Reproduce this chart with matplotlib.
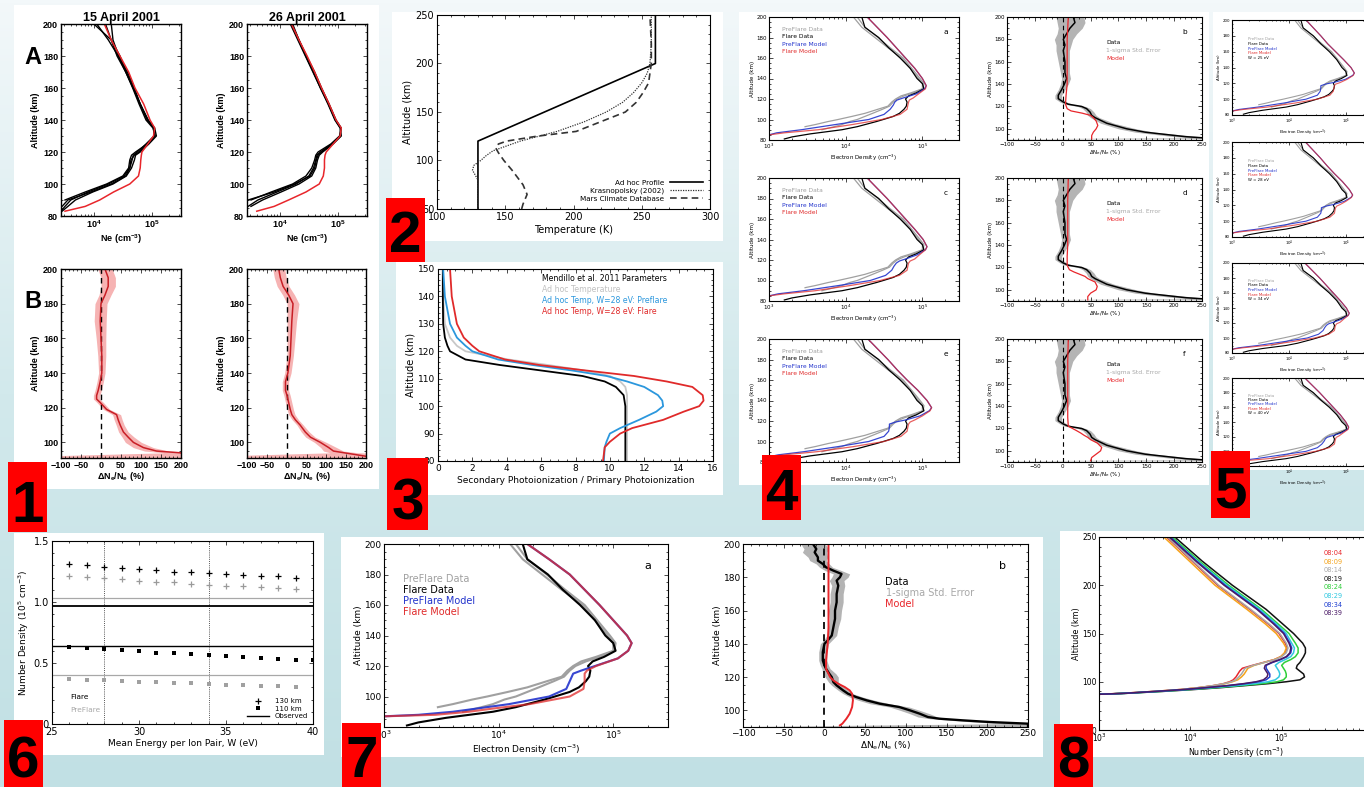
import numpy as np
import matplotlib
matplotlib.use("Agg")
import matplotlib.pyplot as plt
from matplotlib.patches import Rectangle
from matplotlib.lines import Line2D
from matplotlib.ticker import AutoMinorLocator, MultipleLocator
from matplotlib.colors import LinearSegmentedColormap

nan = np.nan
plt.rcParams["font.family"] = ["DejaVu Sans"]
plt.rcParams["mathtext.default"] = "regular"

# ---------------- panel 1 : Ne profiles, 15 / 26 April 2001 ----------------
alt_1a = [83, 86, 90, 95, 100, 105, 110, 115, 118, 120, 125, 130, 135, 140, 150, 160, 170, 180, 190, 200]
ne15_k1 = [3.43, 3.50, 3.60, 3.90, 4.25, 4.52, 4.62, 4.66, 4.68, 4.75, 4.90, 5.04, 5.03, 4.93, 4.80, 4.68, 4.55, 4.40, 4.30, 4.20]
ne15_k2 = [nan, 3.45, 3.55, 3.95, 4.30, 4.55, 4.62, 4.64, 4.70, 4.78, 4.93, 5.06, 5.02, 4.90, 4.78, 4.67, 4.55, 4.42, 4.25, 4.05]
ne15_k3 = [nan, nan, 3.50, 3.85, 4.22, 4.50, 4.60, 4.62, 4.65, 4.72, 4.92, 5.05, 5.04, 4.92, 4.80, 4.70, 4.58, 4.43, 4.33, 4.30]
ne15_k4 = [3.45, 3.55, 3.68, 3.98, 4.33, 4.56, 4.65, 4.70, 4.72, 4.80, 4.95, 5.08, 5.05, 4.94, 4.80, 4.68, 4.56, 4.45, 4.30, 4.00]
ne15_red = [3.50, 3.85, 4.10, 4.34, 4.62, 4.77, 4.80, 4.81, 4.82, 4.83, 4.93, 5.03, 5.05, 4.97, 4.86, 4.71, 4.60, 4.45, 4.30, 4.18]
ne26_k1 = [nan, 3.45, 3.62, 3.95, 4.28, 4.50, 4.58, 4.62, 4.64, 4.70, 4.90, 5.04, 5.05, 4.96, 4.84, 4.70, 4.58, 4.45, 4.32, 4.20]
ne26_k2 = [nan, nan, 3.50, 3.85, 4.22, 4.45, 4.55, 4.60, 4.62, 4.66, 4.88, 5.03, 5.06, 4.97, 4.85, 4.72, 4.60, 4.46, 4.33, 4.22]
ne26_k3 = [nan, 3.50, 3.70, 4.02, 4.33, 4.55, 4.62, 4.65, 4.68, 4.74, 4.92, 5.06, 5.04, 4.95, 4.83, 4.70, 4.57, 4.44, 4.31, 4.18]
ne26_k4 = [nan, nan, 3.45, 3.90, 4.25, 4.52, 4.60, 4.63, 4.66, 4.72, 4.90, 5.05, 5.05, 4.96, 4.84, 4.71, 4.58, 4.45, 4.33, 4.20]
ne26_red = [3.60, 3.90, 4.15, 4.45, 4.68, 4.75, 4.77, 4.77, 4.78, 4.80, 4.92, 5.04, 5.06, 4.97, 4.85, 4.72, 4.60, 4.47, 4.33, 4.20]

alt_1b = [91, 92, 94, 95, 97, 100, 103, 106, 110, 113, 116, 119, 121, 123, 125, 127, 130, 135, 140, 150, 160, 170, 180, 185, 190, 195, 200]
dn15 = [250, 230, 198, 139, 106, 81, 68, 56, 48, 43, 39, 14, 6, -2, -11, -11, -7, -2, 2, 2, 0, -2, 0, 10, 18, 18, 10]
err15 = [400, 400, 40, 30, 25, 20, 15, 12, 10, 10, 10, 8, 8, 8, 8, 8, 8, 8, 8, 10, 12, 15, 15, 15, 18, 18, 18]
dn26 = [250, 200, 145, 118, 106, 85, 60, 47, 34, 22, 13, 9, 7, 5, 3, 1, -3, -3, 3, 9, 11, 13, 16, 5, -9, -16, -20]
err26 = [400, 400, 35, 25, 20, 15, 12, 10, 8, 8, 8, 8, 8, 8, 8, 8, 8, 8, 8, 8, 10, 12, 15, 15, 15, 15, 15]

# ---------------- panel 2 : temperature profiles ----------------
alt_adhoc = [50, 120, 200, 250]
t_adhoc = [130, 130, 260, 260]
alt_kras = [50, 80, 85, 90, 95, 100, 105, 110, 120, 130, 140, 150, 160, 170, 180, 190, 200, 220, 250]
t_kras = [130, 130, 128, 126, 127, 132, 136, 141, 161, 188, 208, 224, 236, 244, 250, 254, 256, 257, 257]
alt_mcd = [50, 55, 65, 75, 90, 100, 108, 113, 117, 120, 125, 130, 140, 150, 160, 170, 180, 190, 200, 220, 250]
t_mcd = [162, 163, 166, 163, 155, 149, 145, 143, 145, 151, 173, 202, 220, 238, 246, 251, 255, 256, 257, 257, 256]

# ---------------- panel 3 : secondary / primary photoionization ----------------
alt_3 = [80, 85, 87, 90, 92, 95, 98, 100, 102, 104, 107, 109, 111, 113, 115, 117, 120, 122, 125, 130, 140, 150]
ratio_mendillo = [10.9, 10.9, 10.9, 10.9, 10.9, 10.9, 10.9, 10.9, 10.85, 10.8, 10.35, 9.7, 8.4, 6.0, 3.6, 1.6, 0.7, 0.55, 0.4, 0.3, 0.28, 0.28]
ratio_adhoc = [11.0, 11.0, 11.0, 11.0, 11.0, 11.0, 11.0, 11.0, 11.0, 11.0, 10.9, 10.6, 10.0, 8.5, 6.4, 4.1, 1.6, 1.1, 0.7, 0.4, 0.3, 0.3]
ratio_pre = [9.65, 9.7, 9.8, 10.0, 10.6, 11.7, 12.7, 13.1, 13.05, 12.8, 12.0, 11.0, 9.8, 7.8, 5.5, 3.5, 2.0, 1.6, 1.1, 0.7, 0.4, 0.3]
ratio_flare = [9.6, 9.7, 10.0, 10.6, 11.3, 13.1, 14.3, 15.2, 15.45, 15.4, 14.8, 13.3, 11.4, 8.6, 5.9, 3.9, 2.4, 2.0, 1.5, 1.1, 0.8, 0.7]

# ---------------- panels 4, 5, 7 : electron density (log10 cm^-3) ----------------
alt_data = [81, 83, 86, 90, 93, 95, 98, 100, 103, 106, 110, 113, 117, 120, 123, 126, 130, 135, 140, 150, 160, 170, 180, 190, 200]
flare_data = [3.2, 3.3, 3.54, 3.95, 4.15, 4.25, 4.40, 4.49, 4.62, 4.70, 4.76, 4.79, 4.80, 4.78, 4.82, 4.92, 5.02, 5.00, 4.93, 4.84, 4.71, 4.56, 4.43, 4.25, 4.21]
pre_data1 = [nan, nan, nan, nan, 3.47, 3.6, 3.77, 3.9, 4.08, 4.25, 4.42, 4.55, 4.60, 4.65, 4.72, 4.85, 5.00, 5.00, 4.95, 4.84, 4.73, 4.55, 4.38, 4.21, 4.10]
pre_data2 = [nan, nan, nan, 3.69, 3.85, 3.95, 4.05, 4.15, 4.25, 4.35, 4.48, 4.57, 4.62, 4.67, 4.76, 4.88, 5.01, 5.02, 4.97, 4.86, 4.75, 4.58, 4.42, 4.25, 4.15]

alt_model = [84, 85, 87, 90, 95, 100, 105, 110, 114, 117, 119, 121, 125, 130, 133, 140, 150, 160, 170, 180, 190, 200]
flare_model_a = [2.7, 3.0, 3.2, 3.64, 4.08, 4.47, 4.71, 4.80, 4.81, 4.82, 4.83, 4.88, 4.95, 5.04, 5.05, 5.00, 4.90, 4.78, 4.66, 4.54, 4.41, 4.28]
pre_model_a = [2.7, 3.0, 3.1, 3.42, 3.86, 4.30, 4.50, 4.58, 4.62, 4.64, 4.67, 4.75, 4.92, 5.03, 5.05, 5.00, 4.90, 4.78, 4.66, 4.54, 4.41, 4.28]
flare_model_c = [2.7, 3.0, 3.2, 3.60, 4.05, 4.45, 4.70, 4.80, 4.81, 4.82, 4.84, 4.90, 4.96, 5.04, 5.06, 5.01, 4.90, 4.78, 4.66, 4.54, 4.41, 4.28]
pre_model_c = [2.7, 3.0, 3.12, 3.45, 3.90, 4.32, 4.52, 4.60, 4.63, 4.66, 4.70, 4.78, 4.93, 5.04, 5.06, 5.01, 4.90, 4.78, 4.66, 4.54, 4.41, 4.28]
flare_model_e = [2.7, 3.0, 3.2, 3.62, 4.10, 4.50, 4.72, 4.80, 4.81, 4.82, 4.84, 4.90, 5.00, 5.10, 5.12, 5.06, 4.94, 4.80, 4.67, 4.55, 4.42, 4.29]
pre_model_e = [2.7, 3.0, 3.12, 3.45, 3.90, 4.30, 4.50, 4.56, 4.57, 4.57, 4.65, 4.78, 4.97, 5.09, 5.12, 5.06, 4.94, 4.80, 4.67, 4.55, 4.42, 4.29]
flare_model_g = [2.7, 3.0, 3.2, 3.62, 4.10, 4.50, 4.72, 4.78, 4.79, 4.80, 4.82, 4.90, 5.02, 5.13, 5.15, 5.09, 4.96, 4.82, 4.68, 4.56, 4.43, 4.30]
pre_model_g = [2.7, 3.0, 3.12, 3.45, 3.90, 4.30, 4.50, 4.55, 4.56, 4.56, 4.64, 4.78, 4.99, 5.12, 5.15, 5.09, 4.96, 4.82, 4.68, 4.56, 4.43, 4.30]

alt_model7 = [86, 87, 88, 90, 92, 95, 100, 105, 110, 115, 117, 120, 125, 130, 135, 140, 150, 160, 170, 180, 190, 200]
flare_model7 = [2.6, 3.0, 3.45, 3.74, 3.94, 4.27, 4.62, 4.74, 4.75, 4.75, 4.77, 4.85, 5.04, 5.13, 5.16, 5.12, 5.00, 4.88, 4.75, 4.62, 4.44, 4.25]
pre_model7 = [2.6, 3.0, 3.30, 3.60, 3.80, 4.09, 4.44, 4.59, 4.62, 4.65, 4.72, 4.84, 5.04, 5.13, 5.16, 5.12, 5.00, 4.88, 4.75, 4.62, 4.44, 4.25]

# relative change dNe/Ne (%) for panel 4 b/d/f
alt_dn4 = [91, 92, 93, 95, 97, 100, 105, 110, 112, 115, 118, 120, 122, 124, 127, 130, 135, 140, 145, 150, 160, 170, 175, 180, 185, 190, 195, 200]
dn_data4 = [260, 250, 220, 184, 148, 115, 79, 58, 52, 49, 43, 34, 10, 1, -8, -8, -2, 3, 7, 4, 4, 1, 4, 1, 7, 13, 22, 19]
dn_lo4 = [-150, 230, 200, 165, 130, 100, 68, 50, 45, 42, 36, 27, 4, -5, -14, -14, -8, -4, -2, -4, -8, -12, -12, -15, -10, -8, -10, -12]
dn_hi4 = [400, 280, 245, 205, 165, 132, 92, 66, 60, 56, 50, 41, 17, 7, -2, -2, 4, 10, 14, 12, 12, 12, 15, 18, 25, 35, 40, 38]
alt_dnm4 = [91, 94, 97, 100, 103, 107, 110, 112, 114, 116, 118, 122, 130, 140, 160, 180, 200]
dn_model_b = [52, 52, 55, 60, 63, 60, 55, 50, 35, 15, 8, 5, 6, 8, 8, 8, 10]
dn_model_d = [45, 45, 50, 60, 62, 58, 45, 40, 30, 20, 12, 8, 8, 9, 9, 9, 10]
dn_model_f = [50, 52, 60, 68, 70, 62, 50, 45, 38, 32, 25, 10, 9, 9, 9, 9, 10]

# panel 7 b
alt_dn7 = [90, 92, 93, 94, 95, 96, 98, 100, 102, 104, 106, 108, 110, 112, 115, 117, 120, 122, 125, 127, 130, 135,
           140, 142, 145, 150, 155, 160, 165, 170, 175, 178, 180, 182, 184, 186, 188, 190, 192, 195, 197, 200]
dn_data7 = [250, 250, 203, 170, 141, 127, 117, 105, 92, 68, 52, 39, 29, 23, 15, 11, 9, 6, 2, 0, -2, -2,
            0, 4, 9, 11, 13, 13, 15, 15, 17, 15, 19, 21, 11, 2, -2, -8, -8, -12, -10, -14]
dn_err7 = [400, 30, 20, 15, 12, 12, 12, 12, 12, 12, 10, 8, 6, 6, 6, 6, 8, 8, 5, 5, 5, 5,
           5, 5, 6, 6, 7, 8, 8, 8, 8, 9, 10, 10, 10, 8, 8, 10, 12, 15, 15, 15]
alt_dnm7 = [91, 92, 95, 98, 102, 106, 110, 112, 114, 116, 118, 120, 122, 125, 130, 140, 150, 200]
dn_model7 = [19, 22, 27, 31, 34, 35, 34, 31, 25, 17, 11, 7, 5, 2, 2, 4, 5, 5]

# ---------------- panel 6 : peak densities vs W ----------------
w_130 = [26, 27, 28, 29, 30, 31, 32, 33, 34, 35, 36, 37, 38, 39]
w_110 = [26, 27, 28, 29, 30, 31, 32, 33, 34, 35, 36, 37, 38, 39, 40]
flare_130 = [1.31, 1.30, 1.29, 1.28, 1.27, 1.26, 1.25, 1.245, 1.24, 1.23, 1.225, 1.215, 1.21, 1.20]
pre_130 = [1.215, 1.205, 1.195, 1.185, 1.175, 1.165, 1.16, 1.15, 1.14, 1.135, 1.13, 1.12, 1.115, 1.11]
flare_110 = [0.635, 0.625, 0.615, 0.605, 0.595, 0.585, 0.578, 0.57, 0.562, 0.555, 0.548, 0.542, 0.535, 0.528, 0.522]
pre_110 = [0.367, 0.362, 0.357, 0.352, 0.347, 0.342, 0.337, 0.332, 0.327, 0.322, 0.318, 0.314, 0.309, 0.304]
obs_flare_130, obs_pre_130 = 0.965, 1.035
obs_flare_110, obs_pre_110 = 0.64, 0.405
w_marked = [28, 34]

# ---------------- panel 8 : density vs time ----------------
alt_8 = [87, 88, 90, 92, 94, 96, 98, 100, 102, 105, 108, 111, 114, 117, 120, 123, 126, 130, 135, 140, 150, 160, 175, 200, 225, 250]
times_8 = ["08:04", "08:09", "08:14", "08:19", "08:24", "08:29", "08:34", "08:39"]
colors_8 = ["#e8262b", "#f5a31a", "#a8a8a8", "#111111", "#2fcf3a", "#30c8e0", "#1f3fd0", "#4a1a66"]
n_0804 = [3.0, 3.25, 3.6, 3.9, 4.1, 4.25, 4.36, 4.43, 4.47, 4.5, 4.52, 4.54, 4.57, 4.68, 4.8, 4.92, 4.99, 5.04, 5.06, 5.04, 4.97, 4.85, 4.65, 4.30, 4.02, 3.74]
n_0809 = [3.0, 3.25, 3.6, 3.9, 4.1, 4.26, 4.38, 4.46, 4.52, 4.56, 4.59, 4.61, 4.63, 4.7, 4.81, 4.92, 4.99, 5.03, 5.05, 5.02, 4.94, 4.82, 4.62, 4.27, 3.99, 3.71]
n_0814 = [3.0, 3.25, 3.6, 3.9, 4.1, 4.25, 4.37, 4.45, 4.5, 4.53, 4.56, 4.58, 4.6, 4.69, 4.81, 4.93, 5.0, 5.05, 5.07, 5.05, 4.98, 4.86, 4.66, 4.31, 4.03, 3.75]
n_0819 = [3.0, 3.3, 3.7, 4.05, 4.35, 4.6, 4.85, 5.05, 5.2, 5.25, 5.24, 5.2, 5.16, 5.17, 5.2, 5.22, 5.24, 5.26, 5.26, 5.23, 5.13, 5.01, 4.83, 4.46, 4.13, 3.83]
n_0824 = [3.0, 3.3, 3.68, 4.0, 4.3, 4.55, 4.78, 4.95, 5.02, 5.05, 5.05, 5.04, 5.02, 5.0, 5.03, 5.1, 5.15, 5.18, 5.18, 5.15, 5.08, 4.96, 4.78, 4.42, 4.1, 3.8]
n_0829 = [3.0, 3.28, 3.65, 3.98, 4.25, 4.5, 4.7, 4.85, 4.93, 4.97, 4.98, 4.97, 4.95, 4.93, 4.97, 5.04, 5.1, 5.13, 5.14, 5.11, 5.05, 4.94, 4.76, 4.4, 4.08, 3.78]
n_0834 = [3.0, 3.28, 3.63, 3.95, 4.2, 4.42, 4.6, 4.75, 4.83, 4.87, 4.87, 4.85, 4.83, 4.83, 4.9, 4.99, 5.06, 5.1, 5.11, 5.09, 5.03, 4.92, 4.74, 4.38, 4.07, 3.78]
n_0839 = [3.0, 3.28, 3.62, 3.94, 4.18, 4.4, 4.58, 4.72, 4.8, 4.84, 4.85, 4.83, 4.81, 4.82, 4.89, 4.98, 5.05, 5.09, 5.1, 5.08, 5.02, 4.91, 4.73, 4.37, 4.06, 3.77]

RED, BLUE, GRAY = "#e02a2a", "#2233cc", "#a0a0a0"

# ======================================================================
W_PX, H_PX = 1364, 787
fig = plt.figure(figsize=(W_PX / 100, H_PX / 100), dpi=100)


def add_ax(x0, y0, x1, y1):
    return fig.add_axes([x0 / W_PX, 1 - y1 / H_PX, (x1 - x0) / W_PX, (y1 - y0) / H_PX])


def fig_rect(x0, y0, x1, y1, color, z):
    fig.add_artist(Rectangle((x0 / W_PX, 1 - y1 / H_PX), (x1 - x0) / W_PX, (y1 - y0) / H_PX,
                             transform=fig.transFigure, facecolor=color, edgecolor="none", zorder=z))


def style(ax, fs, lw=0.8, pad=2, minor_x=True, minor_y=True):
    if minor_x and ax.get_xscale() == "linear":
        ax.xaxis.set_minor_locator(AutoMinorLocator())
    if minor_y:
        ax.yaxis.set_minor_locator(AutoMinorLocator())
    ax.tick_params(which="both", direction="in", top=True, right=True, labelsize=fs, width=0.5, pad=pad)
    ax.tick_params(which="major", length=3)
    ax.tick_params(which="minor", length=1.5)
    for s in ax.spines.values():
        s.set_linewidth(lw)


def text_legend(ax, x, y, dy, items, fs, **kw):
    for i, (lab, col) in enumerate(items):
        ax.text(x, y - i * dy, lab, color=col, fontsize=fs, transform=ax.transAxes, va="center", **kw)


def logv(v):
    return 10 ** np.asarray(v, dtype=float)


# background gradient
bg = fig.add_axes([0, 0, 1, 1], zorder=-10)
grad = np.linspace(0, 1, 256).reshape(-1, 1)
bg.imshow(grad, aspect="auto", extent=[0, 1, 0, 1], origin="lower",
          cmap=LinearSegmentedColormap.from_list("bg", ["#c1e0e4", "#d2e9ec", "#f3f8fa"]))
bg.axis("off")

# white panels
for box in [(14, 5, 379, 489), (392, 12, 723, 241), (396, 262, 723, 495), (739, 12, 1209, 485),
            (1213, 12, 1364, 470), (14, 533, 324, 755), (341, 537, 1043, 757), (1060, 531, 1364, 757)]:
    fig_rect(*box, "white", -5)

# ---------------- panel 1 ----------------
hfont = dict(family="Liberation Sans", fontweight="bold")
for (x0, x1), title, blacks, red in [((61, 181), "15 April 2001", [ne15_k1, ne15_k2, ne15_k3, ne15_k4], ne15_red),
                                      ((247, 367), "26 April 2001", [ne26_k1, ne26_k2, ne26_k3, ne26_k4], ne26_red)]:
    ax = add_ax(x0, 24, x1, 216)
    for k in blacks:
        ax.plot(logv(k), alt_1a, color="black", lw=1.0)
    ax.plot(logv(red), alt_1a, color="#e8262b", lw=1.1)
    ax.set_xscale("log")
    ax.set_xlim(2.7e3, 3.2e5)
    ax.set_ylim(80, 200)
    ax.yaxis.set_major_locator(MultipleLocator(20))
    style(ax, 6.5, lw=1.0)
    for t in ax.get_xticklabels() + ax.get_yticklabels():
        t.set_fontfamily("Liberation Sans"); t.set_fontweight("bold")
    ax.set_title(title, fontsize=9, pad=2, **hfont)
    ax.set_xlabel("Ne (cm$^{-3}$)", fontsize=6.5, labelpad=1, **hfont)
    ax.set_ylabel("Altitude (km)", fontsize=6.5, labelpad=2, **hfont)

for (x0, x1), dn, err in [((61, 181), dn15, err15), ((247, 366), dn26, err26)]:
    ax = add_ax(x0, 269, x1, 458)
    dn_a, err_a = np.array(dn, float), np.array(err, float)
    ax.fill_betweenx(alt_1b, dn_a - err_a, dn_a + err_a, color="#f6b3b3", lw=0)
    ax.axvline(0, color="black", ls=(0, (4, 3)), lw=1.0)
    ax.plot(dn, alt_1b, color="#c81e25", lw=1.1)
    ax.set_xlim(-100, 200)
    ax.set_ylim(91, 200)
    ax.xaxis.set_major_locator(MultipleLocator(50))
    ax.yaxis.set_major_locator(MultipleLocator(20))
    style(ax, 6.5, lw=1.0)
    for t in ax.get_xticklabels() + ax.get_yticklabels():
        t.set_fontfamily("Liberation Sans"); t.set_fontweight("bold")
    ax.set_xlabel("ΔN$_e$/N$_e$ (%)", fontsize=6.5, labelpad=0, **hfont)
    ax.set_ylabel("Altitude (km)", fontsize=6.5, labelpad=2, **hfont)

fig.text(33 / W_PX, 1 - 58 / H_PX, "A", fontsize=17, ha="center", va="center", **hfont)
fig.text(33 / W_PX, 1 - 302 / H_PX, "B", fontsize=17, ha="center", va="center", **hfont)

# ---------------- panel 2 ----------------
ax = add_ax(437, 15, 710, 209)
ax.plot(t_adhoc, alt_adhoc, color="black", lw=1.2, label="Ad hoc Profile")
ax.plot(t_kras, alt_kras, color="#333333", lw=0.9, ls=(0, (1, 1)), label="Krasnopolsky (2002)")
ax.plot(t_mcd, alt_mcd, color="#333333", lw=1.2, ls=(0, (4, 2.5)), label="Mars Climate Database")
ax.set_xlim(100, 300)
ax.set_ylim(50, 250)
ax.xaxis.set_major_locator(MultipleLocator(50))
ax.yaxis.set_major_locator(MultipleLocator(50))
style(ax, 7)
ax.set_xlabel("Temperature (K)", fontsize=7, labelpad=2)
ax.set_ylabel("Altitude (km)", fontsize=7, labelpad=2)
ax.legend(loc="lower right", frameon=False, fontsize=5.2, markerfirst=False, handlelength=4.5,
          labelspacing=0.25, borderaxespad=0.6)

# ---------------- panel 3 ----------------
ax = add_ax(438, 269, 713, 461)
ax.plot(ratio_adhoc, alt_3, color="#c8c8c8", lw=1.3)
ax.plot(ratio_mendillo, alt_3, color="black", lw=1.3)
ax.plot(ratio_pre, alt_3, color="#2b97dd", lw=1.3)
ax.plot(ratio_flare, alt_3, color="#e02a2a", lw=1.3)
ax.set_xlim(0, 16)
ax.set_ylim(80, 150)
ax.xaxis.set_major_locator(MultipleLocator(2))
ax.yaxis.set_major_locator(MultipleLocator(10))
style(ax, 6.5)
ax.set_xlabel("Secondary Photoionization / Primary Photoionization", fontsize=6.5, labelpad=2)
ax.set_ylabel("Altitude (km)", fontsize=7, labelpad=2)
text_legend(ax, 0.38, 0.952, 0.058, [("Mendillo et al. 2011 Parameters", "black"),
                                      ("Ad hoc Temperature", "#c0c0c0"),
                                      ("Ad hoc Temp, W=28 eV: Preflare", "#2b97dd"),
                                      ("Ad hoc Temp, W=28 eV: Flare", "#e02a2a")], 5.6)


# ---------------- density / difference panels ----------------
def density_panel(ax, pre_m, flare_m, alt_m, fs, lw, leg_xy, leg_dy, leg_fs, letter=None, extra=None):
    ax.plot(logv(pre_data1), alt_data, color=GRAY, lw=lw)
    ax.plot(logv(pre_data2), alt_data, color=GRAY, lw=lw)
    ax.plot(logv(flare_data), alt_data, color="black", lw=lw)
    ax.plot(logv(pre_m), alt_m, color=BLUE, lw=lw, alpha=0.9)
    ax.plot(logv(flare_m), alt_m, color=RED, lw=lw, alpha=0.75)
    ax.set_xscale("log")
    ax.set_xlim(1e3, 3e5)
    ax.set_ylim(80, 200)
    ax.yaxis.set_major_locator(MultipleLocator(20))
    style(ax, fs, pad=1.5)
    items = [("PreFlare Data", GRAY), ("Flare Data", "black"), ("PreFlare Model", BLUE), ("Flare Model", RED)]
    if extra:
        items.append((extra, "black"))
    text_legend(ax, leg_xy[0], leg_xy[1], leg_dy, items, leg_fs)
    if letter:
        ax.text(0.93, 0.88, letter, fontsize=leg_fs + 1, transform=ax.transAxes, ha="center", va="center")
    ax.set_xlabel("Electron Density (cm$^{-3}$)", fontsize=fs, labelpad=1)
    ax.set_ylabel("Altitude (km)", fontsize=fs, labelpad=1)


def diff_panel(ax, alt_d, dn, lo, hi, alt_m, model, fs, lw, leg_xy, leg_dy, leg_fs, letter):
    ax.fill_betweenx(alt_d, lo, hi, color="#b4b4b4", lw=0)
    ax.axvline(0, color="black", ls=(0, (4, 3)), lw=lw * 0.9)
    ax.plot(dn, alt_d, color="black", lw=lw * 1.2)
    ax.plot(model, alt_m, color="#e8262b", lw=lw)
    ax.set_xlim(-100, 250)
    ax.set_ylim(90, 200)
    ax.xaxis.set_major_locator(MultipleLocator(50))
    ax.yaxis.set_major_locator(MultipleLocator(20))
    style(ax, fs, pad=1.5)
    text_legend(ax, leg_xy[0], leg_xy[1], leg_dy, [("Data", "black"), ("1-sigma Std. Error", "#a8a8a8"),
                                                   ("Model", "#e8262b")], leg_fs)
    ax.text(0.91, 0.88, letter, fontsize=leg_fs + 1, transform=ax.transAxes, ha="center", va="center")
    ax.set_xlabel("ΔN$_e$/N$_e$ (%)", fontsize=fs, labelpad=1)
    ax.set_ylabel("Altitude (km)", fontsize=fs, labelpad=1)


# panel 4
rows4 = [(17, 140, pre_model_a, flare_model_a, dn_model_b, "a", "b"),
         (178, 301, pre_model_c, flare_model_c, dn_model_d, "c", "d"),
         (339, 462, pre_model_e, flare_model_e, dn_model_f, "e", "f")]
for y0, y1, pm, fm, dm, la, lb in rows4:
    ax = add_ax(769, y0, 959, y1)
    density_panel(ax, pm, fm, alt_model, 4, 0.9, (0.07, 0.9), 0.06, 4.3, letter=la)
    ax = add_ax(1007, y0, 1202, y1)
    diff_panel(ax, alt_dn4, dn_data4, dn_lo4, dn_hi4, alt_dnm4, dm, 4, 0.9, (0.51, 0.79), 0.065, 4.3, lb)

# panel 5
rows5 = [(20, 115, pre_model_g, flare_model_g, "W = 25 eV"),
         (142, 237, pre_model_e, flare_model_e, "W = 28 eV"),
         (263, 353, pre_model_c, flare_model_c, "W = 34 eV"),
         (378, 466, pre_model_a, flare_model_a, "W = 40 eV")]
for y0, y1, pm, fm, lab in rows5:
    ax = add_ax(1232, y0, 1373, y1)
    density_panel(ax, pm, fm, alt_model, 2.8, 0.8, (0.11, 0.8), 0.05, 2.8, extra=lab)
    ax.tick_params(which="major", length=2)
    ax.tick_params(which="minor", length=1)

# ---------------- panel 6 ----------------
ax = add_ax(52, 541, 313, 724)
for x in w_marked:
    ax.axvline(x, color="#555555", ls=(0, (1, 1.2)), lw=0.7)
ax.axhline(obs_pre_130, color="#a8a8a8", lw=0.9)
ax.axhline(obs_flare_130, color="black", lw=1.3)
ax.axhline(obs_flare_110, color="black", lw=1.0)
ax.axhline(obs_pre_110, color="#a8a8a8", lw=0.9)
ax.plot(w_130, flare_130, "+", color="black", ms=4.5, mew=0.9)
ax.plot(w_130, pre_130, "+", color="#9a9a9a", ms=4.5, mew=0.9)
ax.plot(w_110, flare_110, "s", color="black", ms=3.2, mew=0)
ax.plot(w_130, pre_110, "s", color="#a0a0a0", ms=3.2, mew=0)
ax.set_xlim(25, 40)
ax.set_ylim(0, 1.5)
ax.xaxis.set_major_locator(MultipleLocator(5))
ax.yaxis.set_major_locator(MultipleLocator(0.5))
ax.yaxis.set_major_formatter(matplotlib.ticker.FormatStrFormatter("%.1f"))
style(ax, 7)
ax.set_xlabel("Mean Energy per Ion Pair, W (eV)", fontsize=6.5, labelpad=1.5)
ax.set_ylabel("Number Density (10$^5$ cm$^{-3}$)", fontsize=6.5, labelpad=2)
text_legend(ax, 0.07, 0.148, 0.07, [("Flare", "black"), ("PreFlare", "#a8a8a8")], 5.3)
handles = [Line2D([], [], ls="none", marker="+", color="black", ms=4.5, mew=0.9),
           Line2D([], [], ls="none", marker="s", color="black", ms=3.2, mew=0),
           Line2D([], [], color="black", lw=1.0)]
ax.legend(handles, ["130 km", "110 km", "Observed"], loc="lower right", frameon=False, fontsize=5,
          handlelength=3.2, labelspacing=0.2, borderaxespad=0.3, handletextpad=0.8)

# ---------------- panel 7 ----------------
ax = add_ax(384, 544, 668, 727)
density_panel(ax, pre_model7, flare_model7, alt_model7, 6.5, 1.5, (0.067, 0.81), 0.06, 7, letter="a")
ax.xaxis.label.set_size(6.5)
ax.yaxis.label.set_size(6.5)
ax = add_ax(743, 544, 1028, 727)
dn7 = np.array(dn_data7, float)
er7 = np.array(dn_err7, float)
diff_panel(ax, alt_dn7, dn7, dn7 - er7, dn7 + er7, alt_dnm7, dn_model7, 6.5, 1.4, (0.5, 0.79), 0.06, 7, "b")

# ---------------- panel 8 ----------------
ax = add_ax(1099, 537, 1373, 730)
curves_8 = [n_0804, n_0809, n_0814, n_0819, n_0824, n_0829, n_0834, n_0839]
for vals, col in zip(curves_8, colors_8):
    ax.plot(logv(vals), alt_8, color=col, lw=1.1)
ax.set_xscale("log")
ax.set_xlim(1e3, 1e6)
ax.set_xticks([1e3, 1e4, 1e5])
ax.set_ylim(50, 250)
ax.yaxis.set_major_locator(MultipleLocator(50))
style(ax, 5.5, pad=1.5)
ax.set_xlabel("Number Density (cm$^{-3}$)", fontsize=5.8, labelpad=1)
ax.set_ylabel("Altitude (km)", fontsize=5.8, labelpad=1)
text_legend(ax, 0.818, 0.917, 0.0445, list(zip(times_8, colors_8)), 4.8)

# ---------------- red number boxes ----------------
num_boxes = [("1", 8, 462, 47, 532), ("2", 386, 198, 425, 262), ("3", 387, 458, 428, 530),
             ("4", 762, 455, 801, 520), ("5", 1211, 451, 1250, 518), ("6", 4, 720, 43, 787),
             ("7", 342, 723, 381, 787), ("8", 1054, 724, 1093, 787)]
for lab, x0, y0, x1, y1 in num_boxes:
    fig_rect(x0, y0, x1, y1, "#ff0000", 20)
    fig.text((x0 + x1) / 2 / W_PX, 1 - (y1 - 10) / H_PX, lab, fontsize=42, ha="center", va="baseline",
             color="black", zorder=21, **hfont)

fig.savefig("out.png", dpi=100)
